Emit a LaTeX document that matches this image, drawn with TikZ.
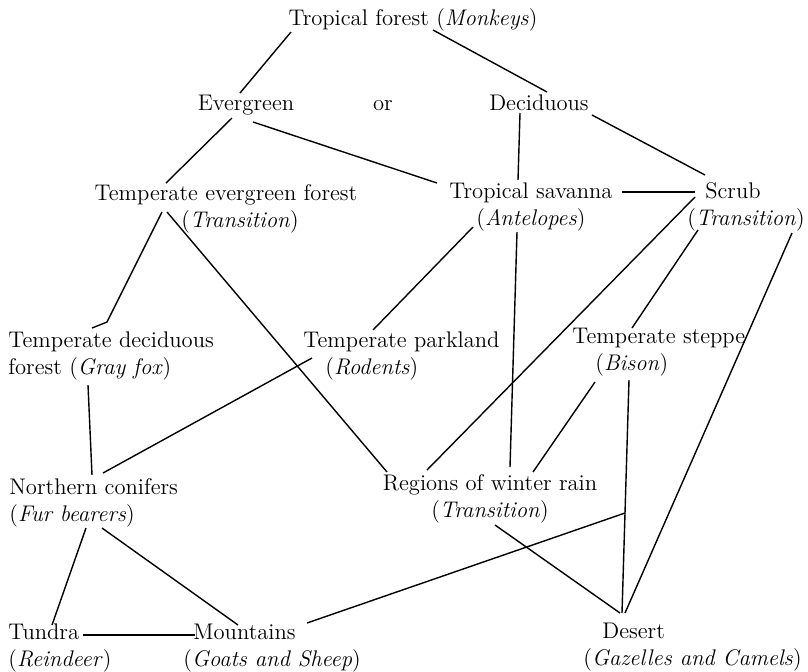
\documentclass[tikz,border=0pt]{standalone}
\begin{document}
\begin{tikzpicture}[x=0.5pt,y=-0.5pt,
  lbl/.style={inner sep=0pt,font=\fontsize{11.3}{13.5}\selectfont},
  conn/.style={line width=0.7pt}]
\useasboundingbox (0,0) rectangle (808,671);
% nodes (multi-line nodes anchored at the baseline of their last line)
\node[lbl,anchor=base] (tf) at (413,25) {Tropical forest (\textit{Monkeys})};
\node[lbl,anchor=base] (ev) at (246,110) {Evergreen};
\node[lbl,anchor=base] (or) at (383,110) {or};
\node[lbl,anchor=base] (dc) at (539,110) {Deciduous};
\node[lbl,anchor=base,align=center] (tef) at (226,227) {Temperate evergreen forest\\\hspace*{14pt}(\textit{Transition})};
\node[lbl,anchor=base,align=center] (ts) at (531,225) {Tropical savanna\\(\textit{Antelopes})};
\node[lbl,anchor=base,align=center] (sc) at (733,225) {Scrub\\\hspace*{13pt}(\textit{Transition})};
\node[lbl,anchor=base west,align=left] (tdf) at (8,374) {Temperate deciduous\\forest (\textit{Gray fox})};
\node[lbl,anchor=base west,align=left] (tp) at (303,374) {Temperate parkland\\\hspace*{11pt}(\textit{Rodents})};
\node[lbl,anchor=base west,align=left] (tst) at (572,370) {Temperate steppe\\\hspace*{11.5pt}(\textit{Bison})};
\node[lbl,anchor=base west,align=left] (nc) at (9,521) {Northern conifers\\(\textit{Fur bearers})};
\node[lbl,anchor=base,align=center] (rwr) at (490,517) {Regions of winter rain\\(\textit{Transition})};
\node[lbl,anchor=base west,align=left] (tu) at (8,666) {Tundra\\(\textit{Reindeer})};
\node[lbl,anchor=base west,align=left] (mt) at (183,666) {\hspace*{5pt}Mountains\\(\textit{Goats and Sheep})};
\node[lbl,anchor=base west,align=left] (ds) at (583,665) {\hspace*{9.5pt}Desert\\(\textit{Gazelles and Camels})};
\coordinate (j) at (625,513);
% connectors
\draw[conn] ([shift={(-122,7)}]tf.base) -- ([shift={(-6,-17)}]ev.base);
\draw[conn] ([shift={(20,5)}]tf.base) -- ([shift={(8,-18)}]dc.base);
\draw[conn] ([shift={(-14,8)}]ev.base) -- ([shift={(-60,-44)}]tef.base);
\draw[conn] ([shift={(7,12)}]ev.base) -- ([shift={(-94,-42)}]ts.base);
\draw[conn] ([shift={(-19,3)}]dc.base) -- ([shift={(-13,-45)}]ts.base);
\draw[conn] ([shift={(53,5)}]dc.base) -- ([shift={(-28,-50)}]sc.base);
\draw[conn] ([shift={(91,-33)}]ts.base) -- ([shift={(-38,-33)}]sc.base);
\draw[conn] ([shift={(-38,-28)}]sc.base) -- ([shift={(-63,-47)}]rwr.base);
\draw[conn] ([shift={(-35,5)}]sc.base) -- ([shift={(60,-42)}]tst.base west);
\draw[conn] ([shift={(59,8)}]sc.base) -- ([shift={(42,-52)}]ds.base west);
\draw[conn] ([shift={(-58,2)}]ts.base) -- ([shift={(70,-44)}]tp.base west);
\draw[conn] ([shift={(-14,7)}]ts.base) -- ([shift={(20,-50)}]rwr.base);
\draw[conn] ([shift={(-64,-15)}]tef.base) -- ([shift={(99,-52)}]tdf.base west) -- ([shift={(84,-46)}]tdf.base west);
\draw[conn] ([shift={(-59,-15)}]tef.base) -- ([shift={(-103,-45)}]rwr.base);
\draw[conn] ([shift={(80,11)}]tdf.base west) -- ([shift={(83,-46)}]nc.base west);
\draw[conn] ([shift={(9,-16)}]tp.base west) -- ([shift={(94,-48)}]nc.base west);
\draw[conn] ([shift={(23,12)}]tst.base west) -- ([shift={(43,-45)}]rwr.base);
\draw[conn] ([shift={(57,10)}]tst.base west) -- ([shift={(39,-52)}]ds.base west);
\draw[conn] ([shift={(5,8)}]rwr.base) -- ([shift={(37,-52)}]ds.base west);
\draw[conn] ([shift={(124,-43)}]mt.base west) -- (j);
\draw[conn] ([shift={(77,7)}]nc.base west) -- ([shift={(44,-41)}]tu.base west);
\draw[conn] ([shift={(93,7)}]nc.base west) -- ([shift={(55,-41)}]mt.base west);
\draw[conn] ([shift={(75,-31)}]tu.base west) -- ([shift={(12,-31)}]mt.base west);
\end{tikzpicture}
\end{document}
